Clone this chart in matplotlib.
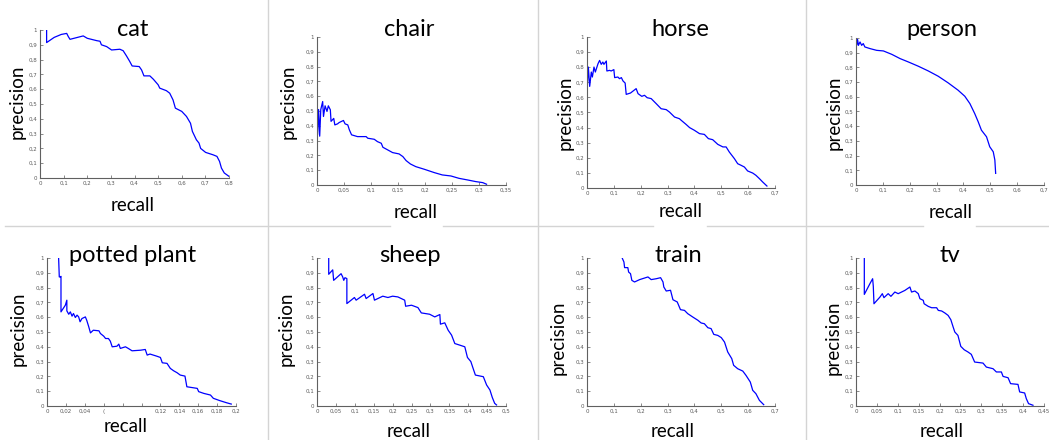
import numpy as np
import matplotlib
matplotlib.use("Agg")
import matplotlib.pyplot as plt
from matplotlib.lines import Line2D

W, H = 1049, 440

# ---- data ----
cat_recall = [0.028, 0.028, 0.06, 0.09, 0.113, 0.12, 0.127, 0.183, 0.2, 0.24, 0.254, 0.26, 0.282,
              0.303, 0.338, 0.352, 0.366, 0.38, 0.39, 0.42, 0.43, 0.44, 0.465, 0.48, 0.5, 0.507,
              0.535, 0.549, 0.563, 0.573, 0.6, 0.62, 0.637, 0.645, 0.662, 0.673, 0.68, 0.701,
              0.732, 0.749, 0.76, 0.768, 0.78, 0.8]
cat_precision = [1.0, 0.915, 0.95, 0.97, 0.977, 0.955, 0.937, 0.96, 0.944, 0.928, 0.924, 0.9, 0.888,
                 0.865, 0.87, 0.86, 0.825, 0.787, 0.757, 0.753, 0.73, 0.69, 0.69, 0.667, 0.63, 0.607,
                 0.59, 0.573, 0.528, 0.472, 0.45, 0.416, 0.37, 0.315, 0.258, 0.236, 0.2, 0.173,
                 0.157, 0.146, 0.112, 0.067, 0.034, 0.011]

chair_recall = [0.0, 0.0, 0.001, 0.003, 0.005, 0.007, 0.0105, 0.012, 0.015, 0.0185, 0.021, 0.0247,
                0.026, 0.031, 0.033, 0.038, 0.041, 0.049, 0.052, 0.057, 0.06, 0.064, 0.075, 0.091,
                0.094, 0.106, 0.112, 0.119, 0.122, 0.131, 0.14, 0.152, 0.159, 0.165, 0.173, 0.183,
                0.199, 0.217, 0.232, 0.248, 0.263, 0.279, 0.294, 0.307, 0.314]
chair_precision = [1.0, 0.666, 0.34, 0.51, 0.33, 0.51, 0.564, 0.463, 0.535, 0.497, 0.535, 0.508,
                   0.43, 0.45, 0.406, 0.413, 0.422, 0.436, 0.413, 0.406, 0.372, 0.339, 0.327, 0.327,
                   0.316, 0.309, 0.293, 0.282, 0.255, 0.237, 0.219, 0.21, 0.192, 0.165, 0.142, 0.124,
                   0.106, 0.084, 0.068, 0.061, 0.045, 0.034, 0.023, 0.016, 0.005]

horse_recall = [0.001, 0.001, 0.005, 0.01, 0.016, 0.02, 0.026, 0.031, 0.041, 0.047, 0.053, 0.059,
                0.063, 0.072, 0.074, 0.084, 0.09, 0.1, 0.103, 0.115, 0.121, 0.128, 0.134, 0.142,
                0.146, 0.162, 0.183, 0.19, 0.204, 0.214, 0.224, 0.239, 0.258, 0.276, 0.295, 0.307,
                0.326, 0.344, 0.351, 0.369, 0.382, 0.4, 0.419, 0.437, 0.452, 0.468, 0.487, 0.506,
                0.518, 0.53, 0.549, 0.561, 0.574, 0.586, 0.598, 0.617, 0.629, 0.642, 0.654, 0.67]
horse_precision = [1.0, 0.673, 0.801, 0.673, 0.768, 0.735, 0.801, 0.768, 0.823, 0.845, 0.819, 0.834,
                   0.819, 0.841, 0.775, 0.779, 0.775, 0.784, 0.731, 0.735, 0.724, 0.731, 0.709, 0.695,
                   0.62, 0.629, 0.658, 0.625, 0.607, 0.614, 0.598, 0.592, 0.558, 0.525, 0.519, 0.503,
                   0.47, 0.459, 0.448, 0.421, 0.4, 0.382, 0.36, 0.355, 0.327, 0.32, 0.289, 0.272,
                   0.272, 0.238, 0.194, 0.161, 0.15, 0.139, 0.113, 0.099, 0.084, 0.062, 0.04, 0.013]

person_recall = [0.002, 0.002, 0.006, 0.009, 0.015, 0.021, 0.027, 0.033, 0.052, 0.077, 0.102, 0.133,
                 0.164, 0.195, 0.232, 0.269, 0.306, 0.343, 0.38, 0.405, 0.424, 0.442, 0.455, 0.467,
                 0.486, 0.498, 0.511, 0.517, 0.52]
person_precision = [1.0, 0.95, 0.989, 0.95, 0.973, 0.95, 0.962, 0.939, 0.928, 0.916, 0.912, 0.889,
                    0.86, 0.837, 0.808, 0.776, 0.74, 0.695, 0.645, 0.604, 0.554, 0.486, 0.43, 0.373,
                    0.328, 0.26, 0.226, 0.17, 0.079]

plant_recall = [0.0123, 0.013, 0.014, 0.0148, 0.0148, 0.0194, 0.021, 0.021, 0.023, 0.0247, 0.0265,
                0.028, 0.03, 0.0318, 0.0335, 0.035, 0.037, 0.0406, 0.042, 0.044, 0.046, 0.049, 0.055,
                0.0565, 0.06, 0.062, 0.065, 0.067, 0.069, 0.074, 0.076, 0.0776, 0.083, 0.086, 0.09,
                0.099, 0.104, 0.106, 0.109, 0.116, 0.12, 0.122, 0.127, 0.1305, 0.134, 0.1376, 0.141,
                0.146, 0.148, 0.152, 0.159, 0.1605, 0.166, 0.173, 0.176, 0.183, 0.19, 0.195]
plant_precision = [1.0, 0.872, 0.872, 0.876, 0.636, 0.681, 0.715, 0.643, 0.62, 0.636, 0.607,
                   0.625, 0.598, 0.614, 0.602, 0.569, 0.591, 0.602, 0.58, 0.539, 0.494, 0.512, 0.508,
                   0.49, 0.472, 0.456, 0.456, 0.438, 0.4, 0.404, 0.418, 0.389, 0.4, 0.389, 0.373,
                   0.377, 0.382, 0.344, 0.351, 0.337, 0.328, 0.292, 0.288, 0.254, 0.238, 0.225, 0.209,
                   0.202, 0.13, 0.126, 0.119, 0.097, 0.085, 0.074, 0.052, 0.036, 0.022, 0.013]

sheep_recall = [0.031, 0.031, 0.0416, 0.044, 0.0637, 0.068, 0.0708, 0.074, 0.079, 0.079, 0.099,
                0.1035, 0.1257, 0.13, 0.148, 0.152, 0.174, 0.1876, 0.2, 0.214, 0.223, 0.232, 0.2345,
                0.25, 0.267, 0.276, 0.298, 0.3115, 0.325, 0.3265, 0.338, 0.347, 0.356, 0.3646, 0.378,
                0.391, 0.398, 0.407, 0.413, 0.419, 0.44, 0.4487, 0.4575, 0.4637, 0.47, 0.475]
sheep_precision = [1.0, 0.89, 0.92, 0.849, 0.894, 0.872, 0.849, 0.867, 0.861, 0.692, 0.733,
                   0.715, 0.755, 0.726, 0.76, 0.715, 0.742, 0.733, 0.742, 0.737, 0.726, 0.715, 0.674,
                   0.681, 0.665, 0.629, 0.62, 0.602, 0.618, 0.553, 0.562, 0.512, 0.479, 0.422, 0.411,
                   0.4, 0.328, 0.3, 0.254, 0.209, 0.198, 0.142, 0.108, 0.058, 0.018, 0.007]

train_recall = [0.131, 0.1375, 0.14, 0.152, 0.155, 0.162, 0.167, 0.177, 0.196, 0.227, 0.239, 0.258,
                0.274, 0.283, 0.286, 0.295, 0.311, 0.32, 0.336, 0.348, 0.363, 0.375, 0.394, 0.413,
                0.425, 0.437, 0.45, 0.462, 0.472, 0.487, 0.5, 0.512, 0.524, 0.539, 0.546, 0.561,
                0.58, 0.592, 0.608, 0.617, 0.629, 0.642, 0.658]
train_precision = [1.0, 0.973, 0.935, 0.935, 0.905, 0.894, 0.849, 0.838, 0.854, 0.872, 0.854, 0.86,
                   0.867, 0.838, 0.804, 0.777, 0.782, 0.718, 0.703, 0.651, 0.646, 0.624, 0.601, 0.579,
                   0.561, 0.556, 0.529, 0.523, 0.484, 0.477, 0.462, 0.432, 0.365, 0.32, 0.275, 0.252,
                   0.236, 0.207, 0.162, 0.106, 0.083, 0.038, 0.009]

tv_recall = [0.0199, 0.0199, 0.0334, 0.0398, 0.0414, 0.043, 0.0573, 0.063, 0.0669, 0.077, 0.0836,
             0.093, 0.101, 0.117, 0.129, 0.133, 0.141, 0.149, 0.153, 0.161, 0.163, 0.173, 0.181,
             0.193, 0.197, 0.205, 0.213, 0.2205, 0.227, 0.2325, 0.2365, 0.244, 0.2508, 0.259, 0.268,
             0.276, 0.284, 0.304, 0.312, 0.328, 0.336, 0.348, 0.352, 0.364, 0.37, 0.3877, 0.3917,
             0.4037, 0.4076, 0.413, 0.4236]
tv_precision = [1.0, 0.754, 0.827, 0.86, 0.809, 0.691, 0.736, 0.759, 0.732, 0.759, 0.741, 0.77,
                0.759, 0.781, 0.804, 0.77, 0.777, 0.759, 0.725, 0.714, 0.691, 0.673, 0.664, 0.664,
                0.646, 0.642, 0.628, 0.612, 0.583, 0.534, 0.5, 0.477, 0.403, 0.38, 0.365, 0.349,
                0.297, 0.29, 0.263, 0.252, 0.23, 0.23, 0.2, 0.191, 0.151, 0.146, 0.095, 0.088, 0.05,
                0.016, 0.005]

titles = ["cat", "chair", "horse", "person", "potted plant", "sheep", "train", "tv"]
x_max = [0.8, 0.35, 0.7, 0.7, 0.2, 0.5, 0.7, 0.45]
x_step = [0.1, 0.05, 0.1, 0.1, 0.02, 0.05, 0.1, 0.05]
series = [(cat_recall, cat_precision), (chair_recall, chair_precision),
          (horse_recall, horse_precision), (person_recall, person_precision),
          (plant_recall, plant_precision), (sheep_recall, sheep_precision),
          (train_recall, train_precision), (tv_recall, tv_precision)]

# ---- layout in pixels (left, top, right, bottom) ----
boxes = [(40, 30, 229, 178), (317, 37, 506, 185), (587, 37, 775, 188), (856, 38, 1044, 185),
         (47, 258, 236, 406), (317, 258, 506, 406), (587, 258, 775, 406), (856, 258, 1044, 406)]
title_pos = [(133, 36), (409, 36), (680, 36), (942, 36),
             (133, 262), (410, 262), (678, 262), (950, 262)]
xlabel_pos = [(133, 211), (416, 218), (681, 217), (951, 218),
              (126, 432), (409, 437), (673, 437), (942, 437)]
ylabel_pos = [(17, 102), (288, 102), (565, 113), (834, 113),
              (18, 329), (286, 329), (558, 338), (833, 338)]

FONT = ["Lato", "DejaVu Sans"]
TICK_COLOR = "#5a5a5a"


def fmt(v):
    s = f"{round(v, 4):g}"
    return s.replace(".", ",")


def fx(x):
    return x / W


def fy(y):
    return 1 - y / H


fig = plt.figure(figsize=(W / 100, H / 100), dpi=100)
fig.patch.set_facecolor("white")

# light grey separators between the panels
sep = "#d4d4d4"
for x in [268, 538, 806]:
    fig.add_artist(Line2D([fx(x), fx(x)], [0, 1], color=sep, lw=1))
for x0, x1 in [(5, 390), (443, 653), (707, 923), (976, 1049)]:
    fig.add_artist(Line2D([fx(x0), fx(x1)], [fy(226), fy(226)], color=sep, lw=1))

for i, (rec, prec) in enumerate(series):
    l, t, r, b = boxes[i]
    ax = fig.add_axes([fx(l), fy(b), (r - l) / W, (b - t) / H])
    ax.plot(rec, prec, color="#0000ff", lw=0.9)
    ax.set_xlim(0, x_max[i])
    ax.set_ylim(0, 1)

    xt = np.round(np.arange(0, x_max[i] + x_step[i] / 2, x_step[i]), 4)
    ax.set_xticks(xt)
    labels = [fmt(v) for v in xt]
    if titles[i] == "potted plant":
        # part of the tick labels is hidden in the source picture
        labels[3] = "("
        labels[4] = ""
        labels[5] = ""
    ax.set_xticklabels(labels)
    yt = np.round(np.arange(0, 1.05, 0.1), 2)
    ax.set_yticks(yt)
    ax.set_yticklabels([fmt(v) for v in yt])

    ax.tick_params(direction="in", length=2, width=0.5, labelsize=4, colors=TICK_COLOR, pad=2)
    for side in ["top", "right"]:
        ax.spines[side].set_visible(False)
    for side in ["left", "bottom"]:
        ax.spines[side].set_color("#606060")
        ax.spines[side].set_linewidth(0.8)
    ax.patch.set_alpha(0)

    tx, ty = title_pos[i]
    fig.text(fx(tx), fy(ty), titles[i], ha="center", va="baseline", fontsize=17, family=FONT)
    lx, ly = xlabel_pos[i]
    fig.text(fx(lx), fy(ly), "recall", ha="center", va="baseline", fontsize=13.5, family=FONT)
    px, py = ylabel_pos[i]
    fig.text(fx(px), fy(py), "precision", ha="center", va="center", rotation=90,
             fontsize=13.5, family=FONT)

fig.savefig("out.png", dpi=100)
